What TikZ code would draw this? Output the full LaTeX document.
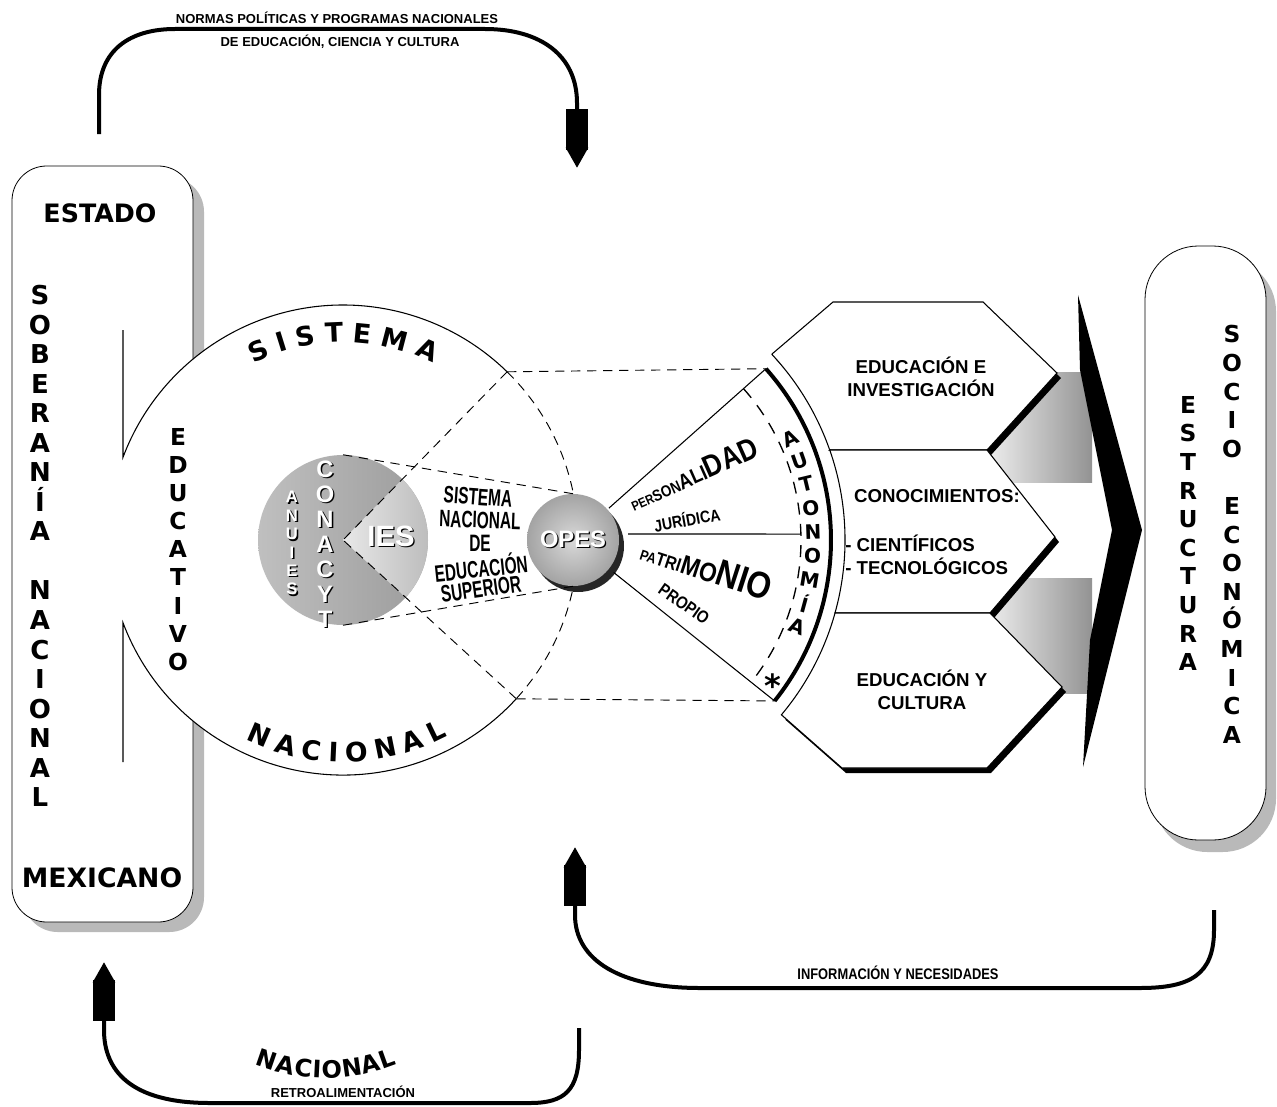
\documentclass[tikz,border=0pt]{standalone}
\usepackage{fontspec}
\setmainfont{Liberation Sans}
\newfontfamily\heavyfont{DejaVu Sans}
\newfontfamily\narrowfont[FakeStretch=0.65]{Liberation Sans}
\newfontfamily\midfont[FakeStretch=0.85]{Liberation Sans}
\newfontfamily\infofont[FakeStretch=0.84]{Liberation Sans}
\usetikzlibrary{arrows.meta,decorations.text}
\newcommand{\embossed}[1]{\makebox[0pt][l]{\kern1pt\raisebox{-1pt}{\color{black}#1}}{\color{white}#1}}

\begin{document}
\begin{tikzpicture}[x=0.75pt,y=-0.75pt,
    panel/.style={draw=black,line width=0.6pt,fill=white},
    panelshadow/.style={fill=gray!55},
    flow/.style={line width=3pt,-{Rectangle[length=31pt,width=17pt,sep=-2pt,line width=0pt]Triangle[length=15pt,width=17pt,sep=-2pt,line width=0pt]}},
    cone/.style={line width=0.7pt,dash pattern=on 7pt off 5pt},
    flowlabel/.style={inner sep=0pt,font=\bfseries\fontsize{9.75}{10}\selectfont},
    hexa/.style={draw=black,line width=0.8pt,fill=white},
    hexatext/.style={align=center,inner sep=0pt,font=\bfseries\fontsize{14}{17.25}\selectfont},
    bigletters/.style={align=center,inner sep=0pt,font=\heavyfont\bfseries\fontsize{17.5}{21.45}\selectfont},
    autoletter/.style={inner sep=0pt,font=\heavyfont\bfseries\fontsize{15}{15}\selectfont},
    narrowline/.style={inner sep=0pt,font=\narrowfont\bfseries\fontsize{17.8}{18}\selectfont},
  ]
  \useasboundingbox (0,0) rectangle (1277,1106);

  % estado mexicano
  \fill[panelshadow,rounded corners=26pt] (23,177) rectangle (204,932);
  \draw[panel,rounded corners=26pt] (12,166) rectangle (193,922);

  % sistema educativo nacional
  \fill[white] (343,540) circle[radius=235];
  \coordinate (sys-ne) at (507.1,371.8);
  \coordinate (sys-se) at (516.3,698.8);
  \draw[line width=0.8pt] (123,330) -- (123,457.3) arc[start angle=200.6,end angle=314.3,radius=235];
  \draw[line width=0.8pt] (123,762) -- (123,622.7) arc[start angle=159.4,end angle=42.5,radius=235];
  \draw[cone] (sys-ne) arc[start angle=-45.7,end angle=42.5,radius=235];

  \node[circle,minimum size=127.5pt,inner sep=0pt,left color=gray!50,right color=gray!78] (anuies) at (343,540) {};
  \shade[left color=gray!18,right color=gray!55] (anuies.center) -- ([shift={(-45.7:85)}]anuies.center) arc[start angle=-45.7,end angle=42.5,radius=85] -- cycle;
  \draw[cone] (sys-ne) -- (anuies.center);
  \draw[cone] (sys-se) -- (anuies.center);

  % opes
  \coordinate (fan) at (573,540);
  \fill[gray!30!black] (578,546) circle[radius=46];
  \node[circle,minimum size=69pt,inner sep=0pt,inner color=gray!30,outer color=gray!72,font=\bfseries\fontsize{17.8}{18}\selectfont] (opes) at (fan) {\embossed{OPES}};
  \draw[cone] (anuies.north) -- (opes.north);
  \draw[cone] (anuies.south) -- (opes.south);

  % fan
  \coordinate (fan-top) at ([shift={(-41.6:258)}]fan);
  \coordinate (fan-bot) at ([shift={(38.6:258)}]fan);
  \draw[line width=0.8pt] ([shift={(-41.6:48)}]fan) -- (fan-top);
  \draw[line width=0.8pt] ([shift={(38.6:52)}]fan) -- (fan-bot);
  \draw[line width=0.8pt] (628,534) -- ([shift={(-1.5:228)}]fan);
  \draw[line width=1pt,dash pattern=on 9pt off 7pt] ([shift={(-41.6:228)}]fan) arc[start angle=-41.6,end angle=38.6,radius=228];
  \draw[line width=3pt] (fan-top) arc[start angle=-41.6,end angle=38.6,radius=258];
  \draw[cone] (sys-ne) -- (fan-top);
  \draw[cone] (sys-se) -- (fan-bot);

  % big arrow
  \shade[left color=gray!15,right color=gray!85] (990,372) rectangle (1092,482);
  \shade[left color=gray!15,right color=gray!85] (990,578) rectangle (1092,693);
  \fill[black] (1078,295) -- (1142,530) -- (1083,767) -- (1090,640) -- (1112,530) -- (1080,370) -- cycle;

  % three blocks
  \fill[black,shift={(4,5)}] (772,354) -- (833,302) -- (983,302) -- (1057,373) -- (987,450) -- (829.7,450) arc[start angle=-19.3,end angle=-43,radius=272] -- cycle;
  \fill[black,shift={(4,5)}] (829.7,450) -- (987,450) -- (1055,537) -- (990,613) -- (835,613) arc[start angle=15.6,end angle=-19.3,radius=272] -- cycle;
  \fill[black,shift={(4,5)}] (835,613) -- (990,613) -- (1062,687) -- (987,768) -- (842,768) -- (781.4,714.8) arc[start angle=40,end angle=15.6,radius=272] -- cycle;
  \filldraw[hexa] (772,354) -- (833,302) -- (983,302) -- (1057,373) -- (987,450) -- (829.7,450) arc[start angle=-19.3,end angle=-43,radius=272] -- cycle;
  \filldraw[hexa] (829.7,450) -- (987,450) -- (1055,537) -- (990,613) -- (835,613) arc[start angle=15.6,end angle=-19.3,radius=272] -- cycle;
  \filldraw[hexa] (835,613) -- (990,613) -- (1062,687) -- (987,768) -- (842,768) -- (781.4,714.8) arc[start angle=40,end angle=15.6,radius=272] -- cycle;

  % estructura socioeconomica
  \fill[panelshadow,rounded corners=40pt] (1154,258) rectangle (1276,852);
  \draw[panel,rounded corners=40pt] (1145,246) rectangle (1266,840);

  % texts
  \node[inner sep=0pt,font=\heavyfont\bfseries\fontsize{19}{19}\selectfont] (estado) at (100,213) {ESTADO};
  \node[inner sep=0pt,font=\heavyfont\bfseries\fontsize{20}{20}\selectfont] (mexicano) at (102,878) {MEXICANO};
  \node[align=center,inner sep=0pt,font=\heavyfont\bfseries\fontsize{19.5}{22.15}\selectfont] (soberania) at (40,546) {S\\O\\B\\E\\R\\A\\N\\Í\\A\\[22.15pt]N\\A\\C\\I\\O\\N\\A\\L};
  \node[align=center,inner sep=0pt,font=\heavyfont\bfseries\fontsize{17.5}{21.1}\selectfont] (educativo) at (178,549.5) {E\\D\\U\\C\\A\\T\\I\\V\\O};
  \path[decorate,decoration={text along path,text align=fit to path,text={|\heavyfont\bfseries\fontsize{20}{20}\selectfont|SISTEMA}}] ([shift={(-117:198)}]anuies.center) arc[start angle=-117,end angle=-63,radius=198];
  \path[decorate,decoration={text along path,text align=fit to path,text={|\heavyfont\bfseries\fontsize{20}{20}\selectfont|NACIONAL}}] ([shift={(116:222)}]anuies.center) arc[start angle=116,end angle=62,radius=222];

  \node[align=center,inner sep=0pt,font=\bfseries\fontsize{17.8}{18.75}\selectfont] (conacyt) at (325,545) {\embossed{C}\\\embossed{O}\\\embossed{N}\\\embossed{A}\\\embossed{C}\\\embossed{Y}\\\embossed{T}};
  \node[align=center,inner sep=0pt,font=\bfseries\fontsize{12.5}{13.8}\selectfont] (anuies-text) at (292,544) {\embossed{A}\\\embossed{N}\\\embossed{U}\\\embossed{I}\\\embossed{E}\\\embossed{S}};
  \node[inner sep=0pt,font=\bfseries\fontsize{22}{22}\selectfont] (ies) at (391,537) {\embossed{IES}};

  \node[narrowline,rotate=-4] (sns-1) at (478,497) {SISTEMA};
  \node[narrowline,rotate=-2] (sns-2) at (480,520) {NACIONAL};
  \node[narrowline] (sns-3) at (480,543) {DE};
  \node[narrowline,rotate=6] (sns-4) at (481,567) {EDUCACIÓN};
  \node[narrowline,rotate=8] (sns-5) at (481,589) {SUPERIOR};

  \node[inner sep=0pt,rotate=24,font=\midfont\bfseries] (personalidad) at (693,474) {\fontsize{10}{10}\selectfont PER\fontsize{12}{12}\selectfont SON\fontsize{16}{16}\selectfont ALI\fontsize{23}{23}\selectfont DAD};
  \node[inner sep=0pt,rotate=10,font=\midfont\bfseries\fontsize{12.5}{12}\selectfont] (juridica) at (687,519) {JURÍDICA};
  \node[inner sep=0pt,rotate=-18,font=\midfont\bfseries] (patrimonio) at (707,568) {\fontsize{11}{11}\selectfont PA\fontsize{14}{14}\selectfont TRI\fontsize{20}{20}\selectfont MO\fontsize{28}{28}\selectfont NIO};
  \node[inner sep=0pt,rotate=-35,font=\midfont\bfseries\fontsize{13}{12}\selectfont] (propio) at (684,604) {PROPIO};

  \node[autoletter,rotate=25] (auto-1) at ([shift={(-25:240)}]fan) {A};
  \node[autoletter,rotate=19.25] (auto-2) at ([shift={(-19.25:240)}]fan) {U};
  \node[autoletter,rotate=13.5] (auto-3) at ([shift={(-13.5:240)}]fan) {T};
  \node[autoletter,rotate=7.75] (auto-4) at ([shift={(-7.75:240)}]fan) {O};
  \node[autoletter,rotate=2] (auto-5) at ([shift={(-2:240)}]fan) {N};
  \node[autoletter,rotate=-3.75] (auto-6) at ([shift={(3.75:240)}]fan) {O};
  \node[autoletter,rotate=-9.5] (auto-7) at ([shift={(9.5:240)}]fan) {M};
  \node[autoletter,rotate=-15.25] (auto-8) at ([shift={(15.25:240)}]fan) {Í};
  \node[autoletter,rotate=-21] (auto-9) at ([shift={(21:240)}]fan) {A};
  \node[inner sep=0pt,font=\heavyfont\bfseries\fontsize{24}{24}\selectfont] (star) at (773,686) {*};

  \node[hexatext] (edu-inv) at (921,377) {EDUCACIÓN E\\INVESTIGACIÓN};
  \node[hexatext] (conocimientos) at (937,496) {CONOCIMIENTOS:};
  \node[hexatext,anchor=west] (cientificos) at (845,543) {- CIENTÍFICOS};
  \node[hexatext,anchor=west] (tecnologicos) at (845,566) {- TECNOLÓGICOS};
  \node[hexatext] (edu-cul) at (922,690) {EDUCACIÓN Y\\CULTURA};

  \node[bigletters] (estructura) at (1188,533.5) {E\\S\\T\\R\\U\\C\\T\\U\\R\\A};
  \node[bigletters] (socioeconomica) at (1232,534.5) {S\\O\\C\\I\\O\\[21.45pt]E\\C\\O\\N\\Ó\\M\\I\\C\\A};

  % flows
  \coordinate (normas-start) at (99,134);
  \coordinate (normas-end) at (577,165);
  \draw[flow] (normas-start) -- (99,95) .. controls (99,50) and (130,29) .. (175,29) -- (485,29) .. controls (540,29) and (577,55) .. (577,103) -- (normas-end);
  \node[flowlabel] (normas) at (337,18) {NORMAS POLÍTICAS Y PROGRAMAS NACIONALES};
  \node[flowlabel] (cultura) at (340,42) {DE EDUCACIÓN, CIENCIA Y CULTURA};

  \coordinate (info-start) at (1214,910);
  \coordinate (info-end) at (575,850);
  \draw[flow] (info-start) -- (1214,930) .. controls (1214,975) and (1190,988) .. (1140,988) -- (700,988) .. controls (620,988) and (575,960) .. (575,915) -- (info-end);
  \node[inner sep=0pt,font=\infofont\bfseries\fontsize{11.5}{12}\selectfont] (informacion) at (898,973) {INFORMACIÓN Y NECESIDADES};

  \coordinate (retro-start) at (579,1028);
  \coordinate (retro-end) at (104,965);
  \draw[flow] (retro-start) -- (579,1050) .. controls (579,1090) and (565,1103) .. (530,1103) -- (210,1103) .. controls (130,1103) and (104,1070) .. (104,1030) -- (retro-end);
  \node[flowlabel] (retro) at (343,1092) {RETROALIMENTACIÓN};
  \coordinate (retro-arc) at (326,888);
  \path[decorate,decoration={text along path,text align=fit to path,text={|\heavyfont\bfseries\fontsize{18}{18}\selectfont|NACIONAL}}] ([shift={(112:190)}]retro-arc) arc[start angle=112,end angle=68,radius=190];
\end{tikzpicture}
\end{document}
